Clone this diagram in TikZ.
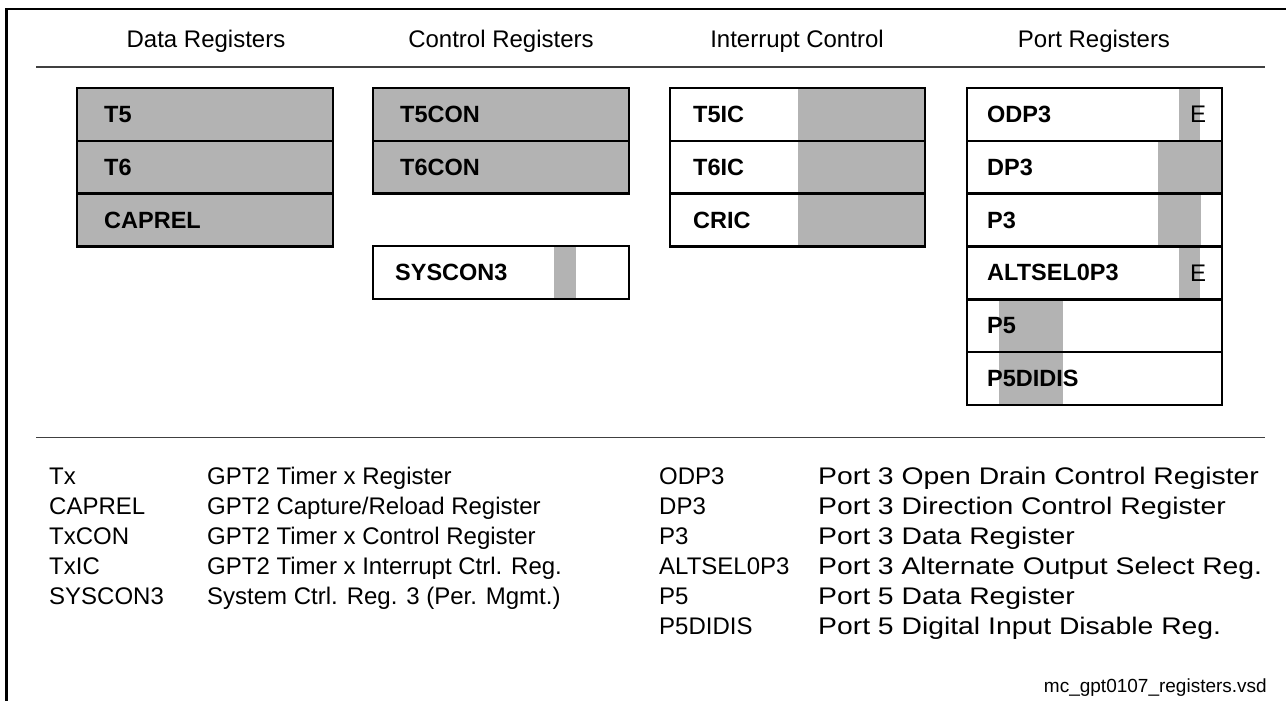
\documentclass[tikz,border=0pt]{standalone}
\usepackage{fontspec}
\setmainfont{Liberation Sans}
\newfontfamily\widefont[FakeStretch=1.18]{Liberation Sans}
\definecolor{regGray}{RGB}{179,179,179}
\begin{document}
\begin{tikzpicture}[x=1pt,y=-1pt,
  reg/.style={draw=black, line width=2.6pt, anchor=north west, minimum width=255pt, minimum height=52.8pt, inner sep=0pt, outer sep=0pt},
  lbl/.style={anchor=west, font=\fontsize{23.5}{24}\selectfont\bfseries, inner sep=0pt},
  ebit/.style={anchor=west, font=\fontsize{24}{24}\selectfont, inner sep=0pt},
  hdr/.style={anchor=base, font=\fontsize{24}{24}\selectfont, inner sep=0pt},
  leg/.style={anchor=base west, font=\fontsize{24}{24}\selectfont, inner sep=0pt},
  legw/.style={anchor=base west, font=\widefont\fontsize{24}{24}\selectfont, inner sep=0pt},
  sepline/.style={draw=black!75, line width=1.3pt},
  frameline/.style={draw=black, line width=2.6pt}]
\useasboundingbox (0,0) rectangle (1286,701);
% frame
\coordinate (fbl) at (6.5,701);
\coordinate (ftl) at (6.5,9);
\coordinate (ftr) at (1286,9);
\draw[frameline] (fbl) -- (ftl) -- (ftr);
% separators
\coordinate (s1a) at (36,67); \coordinate (s1b) at (1265,67);
\coordinate (s2a) at (36,437.5); \coordinate (s2b) at (1265,437.5);
\draw[sepline] (s1a) -- (s1b);
\draw[sepline] (s2a) -- (s2b);
% headers
\node[hdr] (h1) at (206,48) {Data Registers};
\node[hdr] (h2) at (501,48) {Control Registers};
\node[hdr] (h3) at (797,48) {Interrupt Control};
\node[hdr] (h4) at (1094,48) {Port Registers};

% gray strips (drawn first)
\fill[regGray] (798,88) rectangle (925,246);
\fill[regGray] (554,246) rectangle (576,299);
\fill[regGray] (1179,88) rectangle (1200,141);
\fill[regGray] (1158,141) rectangle (1222,194);
\fill[regGray] (1158,194) rectangle (1201,247);
\fill[regGray] (1179,247) rectangle (1200,300);
\fill[regGray] (999,300) rectangle (1063,405);

% data registers
\node[reg, fill=regGray, minimum width=256pt] (t5) at (77,88) {};
\node[reg, fill=regGray, minimum width=256pt] (t6) at (77,140.8) {};
\node[reg, fill=regGray, minimum width=256pt] (caprel) at (77,193.6) {};
\node[lbl] at ([xshift=27pt]t5.west) {T5};
\node[lbl] at ([xshift=27pt]t6.west) {T6};
\node[lbl] at ([xshift=27pt]caprel.west) {CAPREL};

% control registers
\node[reg, fill=regGray, minimum width=256pt] (t5con) at (373,88) {};
\node[reg, fill=regGray, minimum width=256pt] (t6con) at (373,140.8) {};
\node[reg, minimum width=256pt, minimum height=53pt] (syscon) at (373,246) {};
\node[lbl] at ([xshift=27pt]t5con.west) {T5CON};
\node[lbl] at ([xshift=27pt]t6con.west) {T6CON};
\node[lbl] at ([xshift=22pt]syscon.west) {SYSCON3};

% interrupt control
\node[reg] (t5ic) at (670,88) {};
\node[reg] (t6ic) at (670,140.8) {};
\node[reg] (cric) at (670,193.6) {};
\node[lbl] at ([xshift=23pt]t5ic.west) {T5IC};
\node[lbl] at ([xshift=23pt]t6ic.west) {T6IC};
\node[lbl] at ([xshift=23pt]cric.west) {CRIC};

% port registers
\node[reg] (odp3) at (967,88) {};
\node[reg] (dp3) at (967,140.8) {};
\node[reg] (p3) at (967,193.6) {};
\node[reg] (altsel) at (967,246.4) {};
\node[reg] (p5) at (967,299.2) {};
\node[reg] (p5didis) at (967,352) {};
\node[lbl] at ([xshift=20pt]odp3.west) {ODP3};
\node[lbl] at ([xshift=20pt]dp3.west) {DP3};
\node[lbl] at ([xshift=20pt]p3.west) {P3};
\node[lbl] at ([xshift=20pt]altsel.west) {ALTSEL0P3};
\node[lbl] at ([xshift=20pt]p5.west) {P5};
\node[lbl] at ([xshift=20pt]p5didis.west) {P5DIDIS};
\node[ebit] at ([xshift=223pt]odp3.west) {E};
\node[ebit] at ([xshift=223pt]altsel.west) {E};

% legend left
\node[leg] (la1) at (49,484) {Tx};
\node[leg] (la2) at (49,514) {CAPREL};
\node[leg] (la3) at (49,544) {TxCON};
\node[leg] (la4) at (49,574) {TxIC};
\node[leg] (la5) at (49,604) {SYSCON3};
\node[leg] (ld1) at (207,484) {GPT2 Timer x Register};
\node[leg] (ld2) at (207,514) {GPT2 Capture/Reload Register};
\node[leg] (ld3) at (207,544) {GPT2 Timer x Control Register};
\node[leg] (ld4) at (207,574) {GPT2 Timer x Interrupt Ctrl. Reg.};
\node[leg] (ld5) at (207,604) {System Ctrl. Reg. 3 (Per. Mgmt.)};
% legend right
\node[leg] (ra1) at (659,484) {ODP3};
\node[leg] (ra2) at (659,514) {DP3};
\node[leg] (ra3) at (659,544) {P3};
\node[leg] (ra4) at (659,574) {ALTSEL0P3};
\node[leg] (ra5) at (659,604) {P5};
\node[leg] (ra6) at (659,634) {P5DIDIS};
\node[legw] (rd1) at (818,484) {Port 3 Open Drain Control Register};
\node[legw] (rd2) at (818,514) {Port 3 Direction Control Register};
\node[legw] (rd3) at (818,544) {Port 3 Data Register};
\node[legw] (rd4) at (818,574) {Port 3 Alternate Output Select Reg.};
\node[legw] (rd5) at (818,604) {Port 5 Data Register};
\node[legw] (rd6) at (818,634) {Port 5 Digital Input Disable Reg.};

% footer
\node[anchor=base east, font=\fontsize{19}{19}\selectfont, inner sep=0pt] (foot) at (1267,692) {mc\_gpt0107\_registers.vsd};
\end{tikzpicture}
\end{document}
